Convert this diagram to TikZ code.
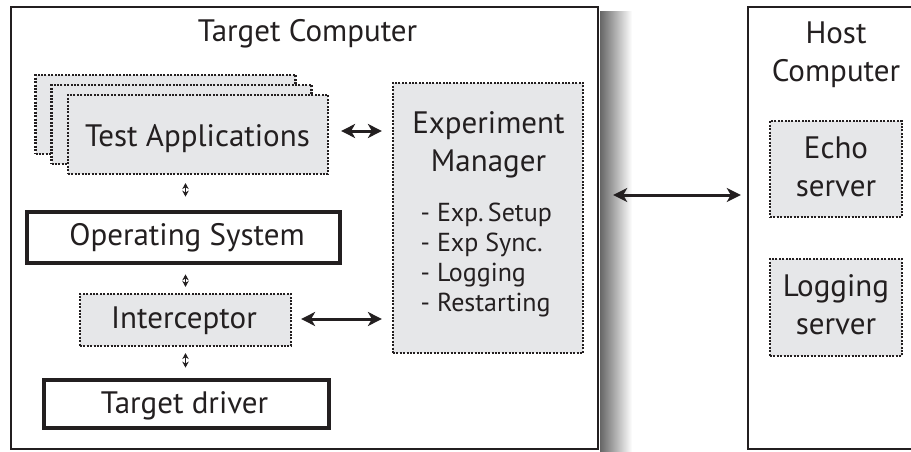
\documentclass[tikz,border=0pt]{standalone}
\usepackage{fontspec}
\setmainfont{PT Sans}
\usetikzlibrary{arrows.meta}
\definecolor{ink}{RGB}{35,31,32}
\definecolor{boxgray}{RGB}{230,231,233}
\newcommand{\bigtext}{\fontsize{31}{38}\selectfont}
\newcommand{\listtext}{\fontsize{26}{30}\selectfont}
\tikzset{
  frame/.style={draw=ink, line width=2.4pt, inner sep=0pt},
  dotbox/.style={draw=ink, fill=boxgray, line width=2.2pt, dash pattern=on 2pt off 1.4pt, inner sep=0pt},
  thickbox/.style={draw=ink, fill=white, line width=4.8pt, inner sep=0pt},
  lbl/.style={text=ink, font=\bigtext, anchor=base, inner sep=0pt, align=center},
  bigarrow/.style={draw=ink, line width=3pt, {Stealth[length=14pt,width=14pt,inset=4pt]}-{Stealth[length=14pt,width=14pt,inset=4pt]}},
  smallarrow/.style={draw=ink, line width=1.6pt, {Stealth[length=6pt,width=6.5pt]}-{Stealth[length=6pt,width=6.5pt]}}
}
\begin{document}
\begin{tikzpicture}[x=1pt,y=-1pt]
    \clip (0,0) rectangle (911,452);
    \fill[white] (0,0) rectangle (911,452);
    \shade[left color=black!60, right color=white] (600,12) rectangle (632,452);

    \node[frame, minimum width=587pt, minimum height=442pt] (target) at (304.5,228) {};
    \node[frame, minimum width=212pt, minimum height=442pt] (host) at (854,228) {};
    \node[lbl] (ttitle) at (307.5,42) {Target Computer};
    \node[lbl] (htitle) at (836,81.7) {Host\\Computer};

    \node[dotbox, minimum width=260pt, minimum height=79pt] (tappC) at (165.5,114.5) {};
    \node[dotbox, minimum width=260pt, minimum height=79pt] (tappB) at (181.5,124.5) {};
    \node[dotbox, minimum width=260pt, minimum height=79pt] (tapp) at (198,134.5) {};
    \node[lbl] (tapptext) at (197.5,146.7) {Test Applications};

    \node[thickbox, minimum width=313pt, minimum height=51pt] (os) at (183.5,237.5) {};
    \node[lbl] (ostext) at (187,245) {Operating System};
    \node[dotbox, minimum width=211pt, minimum height=52pt] (int) at (185.5,320) {};
    \node[lbl] (inttext) at (184,328) {Interceptor};
    \node[thickbox, minimum width=285pt, minimum height=48pt] (drv) at (186.5,404) {};
    \node[lbl] (drvtext) at (184.5,413) {Target driver};

    \node[dotbox, minimum width=190pt, minimum height=270pt] (em) at (488,218) {};
    \node[lbl] (emtext) at (488.5,171.7) {Experiment\\Manager};
    \node[lbl, font=\listtext, anchor=base west, align=left] (emlist) at (420.5,311)
        {- Exp.\,Setup\\- Exp Sync.\\- Logging\\- Restarting};

    \node[dotbox, minimum width=132pt, minimum height=96pt] (echo) at (836,169) {};
    \node[lbl] (echotext) at (836,196.7) {Echo\\server};
    \node[dotbox, minimum width=132pt, minimum height=97pt] (logsrv) at (836,307.5) {};
    \node[lbl] (logtext) at (836,334.3) {Logging\\server};

    \draw[bigarrow, shorten <=12pt, shorten >=10pt] ([yshift=3.5pt]tapp.east) -- ([yshift=3.5pt]tapp.east -| em.west);
    \draw[bigarrow, shorten <=9pt, shorten >=10pt] ([yshift=1pt]int.east) -- ([yshift=1pt]int.east -| em.west);
    \draw[bigarrow, shorten <=14pt, shorten >=6pt] ([yshift=33pt]target.east) -- ([yshift=33pt]target.east -| host.west);

    \draw[smallarrow, shorten <=8pt, shorten >=13pt] (tapp.south -| int.north) -- (os.north -| int.north);
    \draw[smallarrow, shorten <=9pt, shorten >=6pt] (os.south -| int.north) -- (int.north);
    \draw[smallarrow, shorten <=6pt, shorten >=10pt] (int.south) -- (drv.north -| int.south);
\end{tikzpicture}
\end{document}
